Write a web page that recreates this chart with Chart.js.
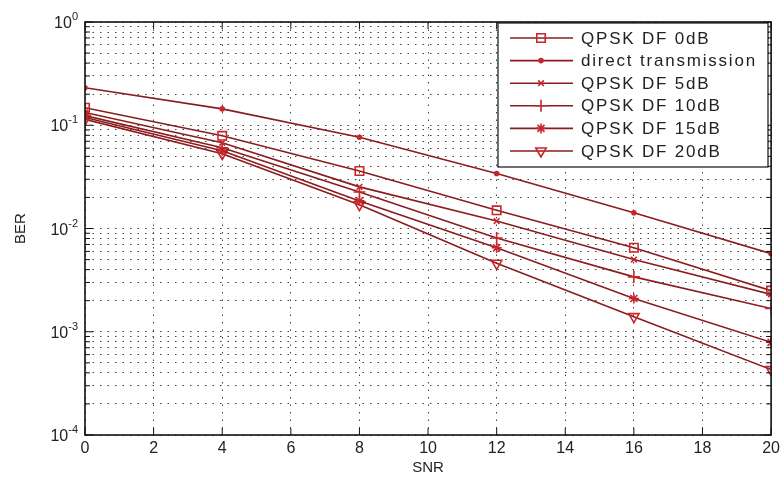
<!DOCTYPE html>
<html>
<head>
<meta charset="utf-8">
<script src="https://cdn.jsdelivr.net/npm/chart.js@4.4.1/dist/chart.umd.min.js"></script>
<style>
  body { margin: 0; background: #fff; }
</style>
</head>
<body>
<canvas id="berChart" width="784" height="477"></canvas>
<script>
// SNR values where the curves have markers
const snr = [0, 4, 8, 12, 16, 20];

// BER values
const qpsk0dB  = [0.148, 0.079, 0.036, 0.015, 0.0065, 0.0025];
const direct   = [0.231, 0.144, 0.0766, 0.0341, 0.0142, 0.0057];
const qpsk5dB  = [0.133, 0.0676, 0.0253, 0.0118, 0.0050, 0.0023];
const qpsk10dB = [0.124, 0.0605, 0.0226, 0.0081, 0.0034, 0.00168];
const qpsk15dB = [0.119, 0.0566, 0.0185, 0.0065, 0.0021, 0.00079];
const qpsk20dB = [0.114, 0.053, 0.017, 0.0046, 0.0014, 0.00043];

const seriesNames = ['QPSK DF 0dB', 'direct transmission', 'QPSK DF 5dB',
                     'QPSK DF 10dB', 'QPSK DF 15dB', 'QPSK DF 20dB'];
const seriesValues = [qpsk0dB, direct, qpsk5dB, qpsk10dB, qpsk15dB, qpsk20dB];

const yExponents = [-4, -3, -2, -1, 0];

const lineColor = '#8b1c1e';
const markColor = '#c8262b';
const textFont = '"Liberation Sans", Arial, sans-serif';
const markers = [
  { style: 'rect', radius: 6, rot: 0, fill: 'rgba(0,0,0,0)' },
  { style: 'circle', radius: 2, rot: 0, fill: markColor },
  { style: 'crossRot', radius: 4, rot: 0, fill: markColor },
  { style: 'cross', radius: 6, rot: 0, fill: markColor },
  { style: 'star', radius: 5, rot: 0, fill: markColor },
  { style: 'triangle', radius: 6, rot: 180, fill: 'rgba(0,0,0,0)' }
];

function isPow10(v) {
  const e = Math.log10(v);
  return Math.abs(e - Math.round(e)) < 1e-6;
}

const datasets = seriesValues.map((vals, i) => ({
  label: seriesNames[i],
  data: vals.map((v, j) => ({ x: snr[j], y: v })),
  borderColor: lineColor,
  borderWidth: 1.6,
  pointStyle: markers[i].style,
  pointRadius: markers[i].radius,
  pointRotation: markers[i].rot,
  pointBorderColor: markColor,
  pointBackgroundColor: markers[i].fill,
  pointBorderWidth: 1.6,
  tension: 0,
  fill: false
}));

// black frame with matlab style inward tick marks, plus 10^k labels
const framePlugin = {
  id: 'frame',
  afterDatasetsDraw(chart) {
    const { ctx, chartArea: a, scales: { x, y } } = chart;
    ctx.save();
    ctx.strokeStyle = '#111';
    ctx.lineWidth = 1;
    ctx.beginPath();
    x.ticks.forEach(t => {
      const px = x.getPixelForValue(t.value);
      ctx.moveTo(px, a.bottom); ctx.lineTo(px, a.bottom - 7);
      ctx.moveTo(px, a.top); ctx.lineTo(px, a.top + 7);
    });
    y.ticks.forEach(t => {
      const py = y.getPixelForValue(t.value);
      const len = isPow10(t.value) ? 8 : 5;
      ctx.moveTo(a.left, py); ctx.lineTo(a.left + len, py);
      ctx.moveTo(a.right, py); ctx.lineTo(a.right - len, py);
    });
    ctx.stroke();
    ctx.lineWidth = 1.6;
    ctx.strokeRect(a.left, a.top, a.right - a.left, a.bottom - a.top);

    // y labels with a raised exponent
    ctx.fillStyle = '#222';
    ctx.textBaseline = 'alphabetic';
    yExponents.forEach(e => {
      const py = y.getPixelForValue(Math.pow(10, e));
      const expText = e === 0 ? '0' : '-' + Math.abs(e);
      ctx.font = '11px ' + textFont;
      const ew = ctx.measureText(expText).width;
      ctx.textAlign = 'right';
      ctx.fillText(expText, a.left - 7, py - 2);
      ctx.font = '16px ' + textFont;
      ctx.fillText('10', a.left - 7 - ew, py + 6);
    });
    ctx.restore();
  }
};

// legend box in the upper right corner
const legendPlugin = {
  id: 'boxLegend',
  afterDraw(chart) {
    const { ctx } = chart;
    const box = { left: 498, top: 23, right: 768, bottom: 167 };
    ctx.save();
    ctx.fillStyle = '#fff';
    ctx.fillRect(box.left, box.top, box.right - box.left, box.bottom - box.top);
    ctx.strokeStyle = '#111';
    ctx.lineWidth = 1.2;
    ctx.strokeRect(box.left, box.top, box.right - box.left, box.bottom - box.top);
    ctx.font = '17px ' + textFont;
    ctx.textBaseline = 'middle';
    ctx.letterSpacing = '1.8px';
    chart.data.datasets.forEach((ds, i) => {
      const yy = 38 + i * 22.6;
      ctx.strokeStyle = lineColor;
      ctx.lineWidth = 1.6;
      ctx.beginPath();
      ctx.moveTo(510, yy); ctx.lineTo(573, yy);
      ctx.stroke();
      ctx.strokeStyle = markColor;
      ctx.fillStyle = markers[i].fill;
      Chart.helpers.drawPoint(ctx, {
        pointStyle: markers[i].style,
        radius: markers[i].radius,
        rotation: markers[i].rot,
        borderWidth: 1.6
      }, 541, yy);
      ctx.fillStyle = '#222';
      ctx.fillText(ds.label, 581, yy + 1);
    });
    ctx.restore();
  }
};

const ctx = document.getElementById('berChart').getContext('2d');
new Chart(ctx, {
  type: 'line',
  data: { datasets: datasets },
  options: {
    responsive: false,
    animation: false,
    layout: { padding: { top: 22, right: 5, left: 0, bottom: 0 } },
    plugins: { legend: { display: false }, tooltip: { enabled: false } },
    scales: {
      x: {
        type: 'linear',
        min: 0,
        max: 20,
        afterFit: s => { s.height = 42; },
        ticks: {
          stepSize: 2,
          padding: 4,
          color: '#222',
          font: { size: 16, family: textFont }
        },
        grid: { color: '#444', lineWidth: 1, drawTicks: false },
        border: { display: false, dash: [1.5, 6] },
        title: {
          display: true,
          text: 'SNR',
          color: '#222',
          padding: { top: 0, bottom: 0 },
          font: { size: 15, family: textFont }
        }
      },
      y: {
        type: 'logarithmic',
        min: 1e-4,
        max: 1,
        afterFit: s => { s.width = 85; },
        afterBuildTicks: s => {
          const list = [];
          yExponents.forEach(e => {
            for (let m = 1; m <= 9; m++) {
              const v = m * Math.pow(10, e);
              if (v <= 1) list.push({ value: v });
            }
          });
          s.ticks = list;
        },
        ticks: { display: false, autoSkip: false },
        grid: { color: '#444', lineWidth: 1, drawTicks: false },
        border: { display: false, dash: [1.5, 6] },
        title: {
          display: true,
          text: 'BER',
          color: '#222',
          padding: { top: 12, bottom: 0 },
          font: { size: 15, family: textFont }
        }
      }
    }
  },
  plugins: [framePlugin, legendPlugin]
});
</script>
</body>
</html>
